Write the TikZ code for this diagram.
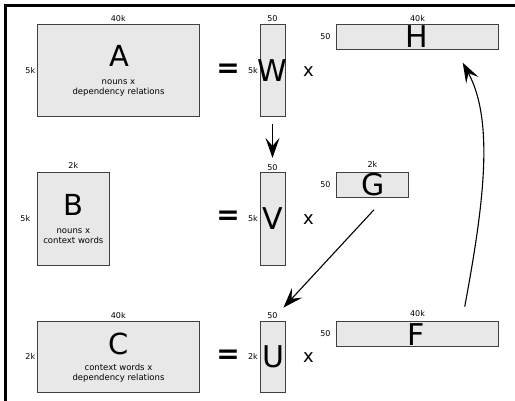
\documentclass[tikz,border=0pt]{standalone}
\usepackage{fontspec}
\setmainfont{DejaVu Sans}
\usetikzlibrary{arrows.meta}
\tikzset{
  mat/.style={draw=black!75, fill=black!9, line width=0.9pt, inner sep=0pt},
  dim/.style={font=\fontsize{8}{9}\selectfont, inner sep=1.5pt},
  big/.style={font=\fontsize{30}{32}\selectfont, inner sep=0pt},
  bigabc/.style={font=\fontsize{29}{31}\selectfont, inner sep=0pt},
  desc/.style={font=\fontsize{8.5}{10}\selectfont, align=center, inner sep=0pt},
  eqsign/.style={font=\fontsize{28}{30}\selectfont\bfseries, inner sep=0pt},
  times/.style={font=\fontsize{18}{20}\selectfont, inner sep=0pt},
  arr/.style={line width=1.1pt, -{Stealth[length=20pt,width=14pt,inset=8pt]}},
}
\begin{document}
\begin{tikzpicture}[x=1pt,y=-1pt]
\useasboundingbox (0,0) rectangle (515,400);
% frame
\draw[line width=3.5pt] (5.5,402) -- (5.5,5.5) -- (517,5.5);

% row 1
\node[mat, minimum width=162pt, minimum height=92.7pt,
  label={[dim]above:40k}, label={[dim]left:5k}] (A) at (118.3,70.3) {};
\node[bigabc] (Al) at (119,55.5) {A};
\node[desc] (Ad) at (118.5,88) {nouns x\\dependency relations};
\node[eqsign] (eq1) at (228,71) {=};
\node[mat, minimum width=25pt, minimum height=92.7pt,
  label={[dim]above:50}, label={[dim]left:5k}] (W) at (272.5,70.3) {};
\node[big] (Wl) at (272.5,71) {W};
\node[times] (x1) at (308.5,72) {x};
\node[mat, minimum width=161.6pt, minimum height=25.3pt,
  label={[dim]above:40k}, label={[dim,label distance=4pt]left:50}] (H) at (417.5,36.6) {};
\node[big] (Hl) at (416.5,36.5) {H};

% row 2
\node[mat, minimum width=72pt, minimum height=92.7pt,
  label={[dim,label distance=2pt]above:2k}, label={[dim,label distance=5pt]left:5k}] (B) at (73.3,218.7) {};
\node[bigabc] (Bl) at (73,204.5) {B};
\node[desc] (Bd) at (73.3,236.5) {nouns x\\context words};
\node[eqsign] (eq2) at (228,218) {=};
\node[mat, minimum width=25pt, minimum height=92.7pt,
  label={[dim]above:50}, label={[dim]left:5k}] (V) at (272.5,218.7) {};
\node[big] (Vl) at (273,219) {V};
\node[times] (x2) at (308.5,219.5) {x};
\node[mat, minimum width=71.6pt, minimum height=25pt,
  label={[dim,label distance=3pt]above:2k}, label={[dim,label distance=4pt]left:50}] (G) at (372.5,184.8) {};
\node[big] (Gl) at (373,185) {G};

% row 3
\node[mat, minimum width=162pt, minimum height=71.3pt,
  label={[dim]above:40k}, label={[dim]left:2k}] (C) at (118.3,356.7) {};
\node[bigabc] (Cl) at (118.5,343.5) {C};
\node[desc] (Cd) at (118.5,373) {context words x\\dependency relations};
\node[eqsign] (eq3) at (228,357) {=};
\node[mat, minimum width=25pt, minimum height=71.3pt,
  label={[dim]above:50}, label={[dim]left:2k}] (U) at (272.5,356.7) {};
\node[big] (Ul) at (273,356.5) {U};
\node[times] (x3) at (308.5,357.5) {x};
\node[mat, minimum width=161.6pt, minimum height=25pt,
  label={[dim,label distance=2pt]above:40k}, label={[dim,label distance=4pt]left:50}] (F) at (417.5,333.5) {};
\node[big] (Fl) at (416.5,335) {F};

% arrows
\draw[arr, shorten <=7pt, shorten >=14pt] (W.south) -- (V.north);
\draw[arr] ([xshift=1.5pt,yshift=-12pt]G.south) -- ([xshift=-2pt,yshift=13pt]U.north east);
\draw[arr] ([xshift=-34pt,yshift=14pt]F.north east)
  .. controls (483,208) and (495,122) .. ([xshift=-36pt,yshift=-13pt]H.south east);
\end{tikzpicture}
\end{document}
